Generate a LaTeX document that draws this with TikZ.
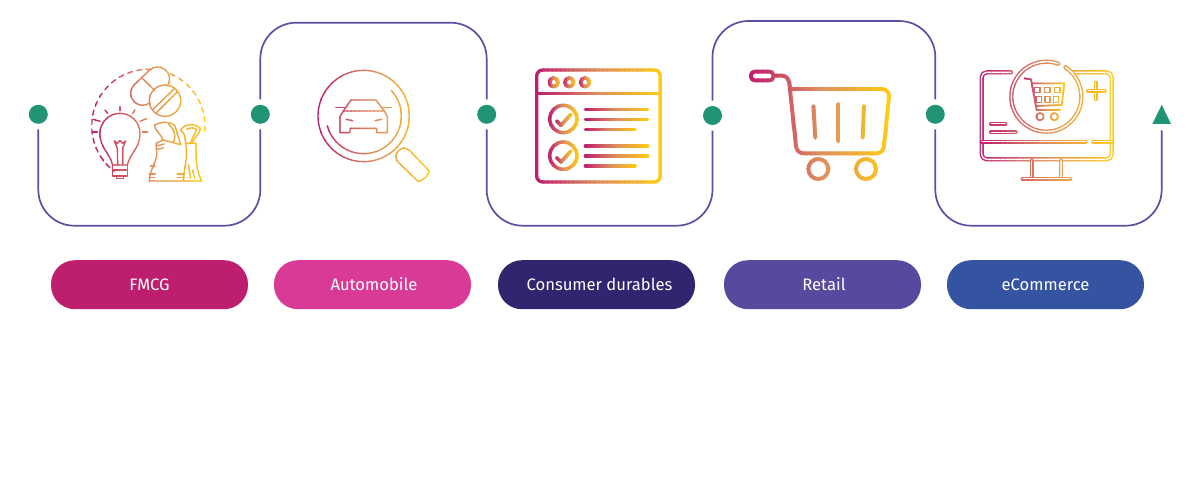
\documentclass[tikz,border=0pt]{standalone}
\usepackage{fontspec}
\setmainfont{Fira Sans}
\usetikzlibrary{shapes.geometric}

\definecolor{gradA}{HTML}{BE1E6E}
\definecolor{gradB}{HTML}{E08F5C}
\definecolor{gradC}{HTML}{FFCB14}
\definecolor{flowcol}{HTML}{5B4FA3}
\definecolor{dotcol}{HTML}{209475}
\definecolor{fmcgcol}{HTML}{BE1E6E}
\definecolor{autocol}{HTML}{D93A96}
\definecolor{durablescol}{HTML}{302670}
\definecolor{retailcol}{HTML}{574A9E}
\definecolor{ecomcol}{HTML}{3454A2}
\colorlet{gradnow}{gradA}

% strokes painted in vertical slices, from x #1 to x #2
\def\gradstroke#1#2#3{%
	\foreach \stripe in {0,...,29}{%
		\pgfmathsetmacro\xa{#1+(#2-#1)*\stripe/30}%
		\pgfmathsetmacro\xb{\xa+(#2-#1)/30+3}%
		\pgfmathtruncatemacro\gradpct{100*\stripe/29}%
		\ifnum\gradpct<50
			\pgfmathtruncatemacro\gradmix{100-2*\gradpct}%
			\colorlet{gradnow}{gradA!\gradmix!gradB}%
		\else
			\pgfmathtruncatemacro\gradmix{200-2*\gradpct}%
			\colorlet{gradnow}{gradB!\gradmix!gradC}%
		\fi
		\begin{scope}
			\clip (\xa,-200) rectangle (\xb,900);
			#3
		\end{scope}
	}%
}

\tikzset{
	flowline/.style={draw=flowcol, line width=1.7, rounded corners=36},
	flowdot/.style={circle, fill=dotcol, inner sep=0, minimum size=19, outer sep=5.5},
	pill/.style={rounded corners=24, minimum width=197, minimum height=49, inner sep=0, text=white, text height=11.5, text depth=0, font=\fontsize{16.6}{18}\selectfont},
	zoomed/.style 2 args={shift={(#1,#2)}, x=0.33333pt, y=-0.33333pt},
	iconthin/.style={draw=gradnow, line width=1.35, line cap=round, line join=round},
	iconthick/.style={draw=gradnow, line width=3.3, line cap=round, line join=round},
	iconheavy/.style={iconthick, line width=3.9},
	iconhollow/.style={draw=gradnow, line width=1.35, double=white, double distance=1.5, line cap=round, line join=round}
}

\begin{document}
\begin{tikzpicture}[x=1pt, y=-1pt]
	%%%%% START %%%%%
	\useasboundingbox (0, 0) rectangle (1200, 496);

	\node[flowdot] (dotA) at (38.3, 114.3) {};
	\node[flowdot] (dotB) at (260.3, 114.3) {};
	\node[flowdot] (dotC) at (486.7, 114.3) {};
	\node[flowdot] (dotD) at (712.5, 115.5) {};
	\node[flowdot] (dotE) at (935.3, 114.3) {};
	\node[isosceles triangle, isosceles triangle stretches, shape border rotate=90, fill=dotcol, inner sep=0, minimum height=19, minimum width=18.5, outer sep=6.5] (arrowF) at (1161.7, 118) {};

	\coordinate (low) at (0, 225.7);
	\coordinate (highB) at (0, 22.7);
	\coordinate (highD) at (0, 21);

	\draw[flowline] (dotA.south) -- (dotA.south |- low) -- (dotB.south |- low) -- (dotB.south);
	\draw[flowline] (dotB.north) -- (dotB.north |- highB) -- (dotC.north |- highB) -- (dotC.north);
	\draw[flowline] (dotC.south) -- (dotC.south |- low) -- (dotD.south |- low) -- (dotD.south);
	\draw[flowline] (dotD.north) -- (dotD.north |- highD) -- (dotE.north |- highD) -- (dotE.north);
	\draw[flowline] (dotE.south) -- (dotE.south |- low) -- (arrowF.south |- low) -- (arrowF.south);

	\node[pill, fill=fmcgcol] (fmcg) at (149.5, 284.7) {FMCG\hspace{7pt}};
	\node[pill, fill=autocol] (auto) at (372.5, 284.7) {\hspace*{3pt}Automobile};
	\node[pill, fill=durablescol] (durables) at (596.5, 284.7) {\hspace*{6pt}Consumer durables};
	\node[pill, fill=retailcol] (retail) at (822.5, 284.7) {\hspace*{3pt}Retail};
	\node[pill, fill=ecomcol] (ecom) at (1045.5, 284.7) {eCommerce};

	%%%%% FMCG %%%%%
	\begin{scope}[zoomed={20}{50}]
		\gradstroke{214}{562}{
			\draw[iconthin, dash pattern=on 5pt off 4.5pt] (385, 228) ++(-87:170) arc[start angle=-87, end angle=-232, radius=170];
			\draw[iconthin, dash pattern=on 5pt off 4.5pt] (385, 228) ++(147:170) arc[start angle=147, end angle=127, radius=170];
			\draw[iconthin, dash pattern=on 5pt off 4.5pt] (385, 228) ++(-67:170) arc[start angle=-67, end angle=8, radius=170];
			% bulb
			\draw[iconthin] (278, 345) .. controls (270, 310) and (240, 295) .. (240, 250) arc[start angle=180, end angle=360, radius=60] .. controls (360, 295) and (330, 310) .. (322, 345) -- cycle;
			\draw[iconthin] (278, 345) -- (278, 378) -- (322, 378) -- (322, 345);
			\draw[iconthin] (278, 360) -- (322, 360);
			\draw[iconthin] (290, 378) -- (290, 386) -- (310, 386) -- (310, 378);
			\draw[iconthin] (293, 345) -- (292, 295) -- (283, 273) -- (292, 280) -- (300, 272) -- (308, 280) -- (317, 273) -- (308, 295) -- (308, 345);
			\draw[iconthin] (300, 170) -- (300, 182);
			\draw[iconthin] (255, 180) -- (263, 190);
			\draw[iconthin] (345, 180) -- (338, 190);
			\draw[iconthin] (220, 208) -- (240, 214);
			\draw[iconthin] (380, 206) -- (360, 214);
			\draw[iconthin] (218, 246) -- (232, 246);
			\draw[iconthin] (368, 246) -- (383, 246);
			% capsule and tablet
			\draw[iconthin] (413, 87) ++(35:36) arc[start angle=35, end angle=-134, radius=36] -- (343, 104) arc[start angle=226, end angle=52, radius=36];
			\draw[iconthin] (367, 85) -- (405, 122);
			\draw[iconthin] (435, 152) circle (47);
			\draw[iconthin] (397, 180) -- (464, 115);
			\draw[iconthin] (408, 189) -- (473, 125);
			% bags
			\draw[iconthin] (388, 393) -- (545, 393) .. controls (535, 370) and (528, 360) .. (528, 280) -- (497, 280);
			\draw[iconthin] (388, 393) .. controls (388, 360) and (410, 340) .. (410, 310) -- (408, 280) -- (430, 270) .. controls (420, 250) and (405, 240) .. (403, 225) .. controls (425, 215) and (450, 212) .. (465, 228) -- (482, 284) -- (430, 270);
			\draw[iconthin] (445, 222) .. controls (465, 240) and (470, 260) .. (460, 277);
			\draw[iconthin] (482, 240) .. controls (490, 225) and (520, 215) .. (541, 235) .. controls (540, 250) and (525, 260) .. (516, 280);
			\draw[iconthin] (497, 280) .. controls (497, 260) and (490, 245) .. (482, 240);
			\draw[iconthin] (500, 238) .. controls (510, 232) and (525, 232) .. (530, 240) -- (510, 280);
			\draw[iconthin] (497, 280) .. controls (505, 330) and (490, 360) .. (490, 393);
			\draw[iconthin] (506, 345) -- (512, 385);
			\draw[iconthin] (518, 360) -- (524, 385);
			\draw[iconthin] (408, 288) -- (432, 282);
			\draw[iconthin] (410, 298) -- (430, 294);
			\draw[iconthin] (392, 348) -- (405, 348);
			\draw[iconthin] (388, 372) -- (406, 372);
			\draw[iconthin] (388, 382) -- (406, 382);
			\draw[iconthin] (472, 372) -- (494, 372);
			\draw[iconthin] (472, 382) -- (494, 382);
		}
	\end{scope}

	%%%%% AUTOMOBILE %%%%%
	\begin{scope}[zoomed={250}{10}]
		\gradstroke{200}{542}{
			\draw[iconthin] (341, 318) circle (137);
			\draw[iconthin] (341, 318) ++(165:113) arc[start angle=165, end angle=-43, radius=113];
			\draw[iconthin] (505, 515) -- (443, 455) .. controls (430, 440) and (440, 420) .. (460, 414) .. controls (468, 413) and (475, 418) .. (480, 423) -- (538, 483) .. controls (535, 498) and (520, 510) .. (505, 515) -- cycle;
			\draw[iconthin] (280, 303) -- (303, 270) -- (378, 270) -- (403, 303) -- cycle;
			\draw[iconthin] (280, 303) -- (270, 320) -- (270, 368) -- (300, 368) -- (300, 355) -- (380, 355) -- (380, 368) -- (412, 368) -- (412, 320) -- (403, 303);
			\draw[iconthin] (258, 292) -- (288, 292);
			\draw[iconthin] (395, 292) -- (425, 292);
			\draw[iconthin] (288, 328) -- (308, 332);
			\draw[iconthin] (395, 328) -- (375, 332);
		}
	\end{scope}

	%%%%% CONSUMER DURABLES %%%%%
	\begin{scope}[zoomed={480}{50}]
		\gradstroke{164}{547}{
			\draw[iconthick, rounded corners=6] (170, 60) rectangle (541, 396);
			\draw[iconthick] (170, 130) -- (541, 130);
		}
		\gradstroke{202}{242}{\draw[iconthick] (221, 97) circle (13);}
		\gradstroke{249}{289}{\draw[iconthick] (268, 97) circle (13);}
		\gradstroke{296}{336}{\draw[iconthick] (315, 97) circle (13);}
		\gradstroke{204}{298}{
			\draw[iconthick] (250, 207) circle (41);
			\draw[iconthick] (250, 317) circle (41);
		}
		\gradstroke{224}{278}{
			\draw[iconthick] (230, 213) -- (243, 226) -- (273, 193);
			\draw[iconthick] (230, 323) -- (243, 336) -- (273, 303);
		}
		\gradstroke{310}{510}{
			\draw[iconthick] (316, 178) -- (503, 178);
			\draw[iconthick] (316, 208) -- (503, 208);
			\draw[iconthick] (316, 288) -- (503, 288);
			\draw[iconthick] (316, 318) -- (503, 318);
		}
		\gradstroke{310}{472}{
			\draw[iconthick] (316, 238) -- (465, 238);
			\draw[iconthick] (316, 348) -- (465, 348);
		}
	\end{scope}

	%%%%% RETAIL %%%%%
	\begin{scope}[zoomed={700}{10}]
		\gradstroke{144}{576}{
			\draw[iconheavy, rounded corners=3.5] (153, 185) rectangle (220, 211);
			\draw[iconheavy] (222, 197) -- (245, 197) .. controls (258, 197) and (266, 205) .. (268, 220) -- (288, 408) .. controls (290, 422) and (298, 430) .. (312, 430) -- (528, 430) .. controls (542, 430) and (550, 422) .. (552, 408) -- (567, 260) .. controls (568, 247) and (558, 237) .. (545, 237) -- (272, 237);
			\draw[iconheavy] (340, 288) -- (346, 383);
			\draw[iconheavy] (415, 283) -- (415, 393);
			\draw[iconheavy] (492, 288) -- (488, 383);
			\draw[iconheavy] (355, 477) circle (30);
			\draw[iconheavy] (498, 477) circle (30);
		}
	\end{scope}

	%%%%% ECOMMERCE %%%%%
	\begin{scope}[zoomed={925}{50}]
		\gradstroke{158}{572}{
			\draw[iconhollow, rounded corners=5] (258, 67) -- (170, 67) -- (170, 328) -- (560, 328) -- (560, 67) -- (445, 67);
			\draw[iconhollow] (170, 275) -- (482, 275);
			\draw[iconhollow] (505, 275) -- (560, 275);
			\draw[iconhollow] (320, 332) -- (320, 384);
			\draw[iconhollow] (408, 332) -- (408, 384);
			\draw[iconhollow] (293, 386) -- (436, 386);
			\draw[iconhollow] (364, 140) ++(-57:105) arc[start angle=-57, end angle=290, radius=105];
			\draw[iconhollow] (512, 98) -- (512, 147);
			\draw[iconhollow] (489, 122) -- (539, 122);
			\draw[iconhollow] (198, 221) -- (241, 221);
			\draw[iconhollow] (198, 247) -- (272, 247);
		}
		\gradstroke{292}{424}{
			\draw[iconthin, line width=1.6] (298, 85) -- (318, 88) -- (335, 180) -- (405, 180);
			\draw[iconthin, line width=1.6] (322, 100) -- (418, 100) -- (410, 165) -- (333, 168);
			\draw[iconthin] (328, 112) rectangle (345, 128);
			\draw[iconthin] (358, 112) rectangle (375, 128);
			\draw[iconthin] (388, 112) rectangle (405, 128);
			\draw[iconthin] (333, 140) rectangle (350, 157);
			\draw[iconthin] (360, 140) rectangle (375, 157);
			\draw[iconthin] (385, 140) rectangle (400, 157);
			\draw[iconthin, line width=1.6] (345, 200) circle (11);
			\draw[iconthin, line width=1.6] (388, 200) circle (11);
		}
	\end{scope}

	%%%%% END %%%%%
\end{tikzpicture}
\end{document}
